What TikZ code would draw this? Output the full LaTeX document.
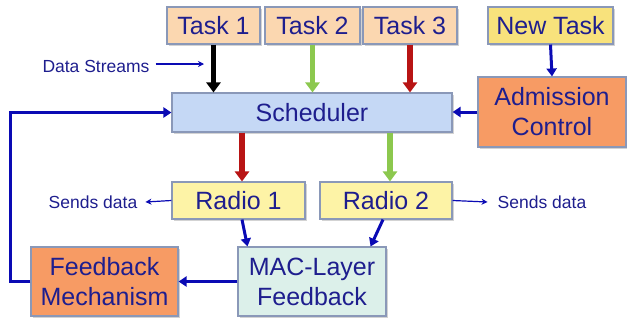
\documentclass[tikz,border=0pt]{standalone}
\usepackage{fontspec}
\setmainfont{Liberation Sans}
\usetikzlibrary{arrows.meta,shadows,calc}
\definecolor{txt}{HTML}{1E1E8E}
\definecolor{peach}{HTML}{FBD7B0}
\definecolor{ntask}{HTML}{F8E27C}
\definecolor{radio}{HTML}{FDF3A6}
\definecolor{sched}{HTML}{C5D8F5}
\definecolor{orng}{HTML}{F79B64}
\definecolor{mac}{HTML}{DCF0EA}
\definecolor{bord}{HTML}{8A98B8}
\definecolor{blu}{HTML}{0A0AB4}
\definecolor{grn}{HTML}{8CC84E}
\definecolor{redd}{HTML}{B81414}
\tikzset{
  box/.style={draw=bord, line width=1.1pt, text=txt, font=\fontsize{25}{30}\selectfont,
    align=center, inner sep=0pt,
    drop shadow={shadow xshift=1.5pt, shadow yshift=-1.5pt, opacity=0.35}},
  small/.style={text=txt, font=\fontsize{17.5}{20}\selectfont, inner sep=0pt},
  fat/.style={line width=5.5pt, -{Triangle[width=14pt,length=10pt]}},
  bluearrow/.style={draw=blu, line width=3pt, -{Triangle[width=10pt,length=8pt]}},
  thinarrow/.style={draw=blu, line width=1.2pt, -{Stealth[width=6pt,length=6pt]}}
}
\begin{document}
\begin{tikzpicture}[x=1pt,y=-1pt]
\useasboundingbox (0,0) rectangle (627,322);
\node[box, fill=peach, minimum width=93pt, minimum height=37pt] (t1) at (213.5,25.5) {Task 1};
\node[box, fill=peach, minimum width=95pt, minimum height=37pt] (t2) at (312.5,25.5) {Task 2};
\node[box, fill=peach, minimum width=94pt, minimum height=37pt] (t3) at (410,25.5) {Task 3};
\node[box, fill=ntask, minimum width=125pt, minimum height=37pt] (nt) at (550.5,25.5) {New Task};
\node[box, fill=sched, minimum width=280pt, minimum height=39pt] (sc) at (312,112.5) {Scheduler};
\node[box, fill=orng, minimum width=148pt, minimum height=70pt] (ac) at (552,112) {Admission\\Control};
\node[box, fill=radio, minimum width=133pt, minimum height=37pt] (r1) at (238.5,200.5) {Radio 1};
\node[box, fill=radio, minimum width=132pt, minimum height=37pt] (r2) at (386,200.5) {Radio 2};
\node[box, fill=mac, minimum width=148pt, minimum height=69pt] (mac) at (312,281.5) {MAC-Layer\\Feedback};
\node[box, fill=orng, minimum width=147pt, minimum height=69pt] (fb) at (104.5,281.5) {Feedback\\Mechanism};
\node[small] (ds) at (96,66) {Data Streams};
\node[small] (sl) at (93,202) {Sends data};
\node[small] (sr) at (542,202) {Sends data};
\coordinate (dsend) at (204,64);
\coordinate (fbl) at (10,0);
% fat arrows
\draw[fat, draw=black] (t1.south) -- (t1.south |- sc.north);
\draw[fat, draw=grn] (t2.south) -- (t2.south |- sc.north);
\draw[fat, draw=redd] (t3.south) -- (t3.south |- sc.north);
\coordinate (r1a) at ($(r1.north)+(3.5,0)$);
\coordinate (r2a) at ($(r2.north)+(4,0)$);
\draw[fat, draw=redd] (r1a |- sc.south) -- (r1a);
\draw[fat, draw=grn] (r2a |- sc.south) -- (r2a);
% blue arrows
\draw[bluearrow] (nt.south) -- (ac.north);
\draw[bluearrow] (ac.west) -- (sc.east |- ac.west);
\draw[bluearrow] ($(r1.south)+(3.5,0)$) -- ($(mac.north west)+(10,0)$);
\draw[bluearrow] ($(r2.south)+(-3,0)$) -- ($(mac.north east)+(-16,0)$);
\draw[bluearrow] (mac.west) -- (fb.east);
\draw[bluearrow] (fb.west) -- (fbl |- fb.west) -- (fbl |- sc.west) -- (sc.west);
% thin arrows
\draw[thinarrow] (ds.east) ++(6,-2) -- (dsend);
\draw[thinarrow] (r1.west) -- ($(sl.east)+(8,0)$);
\draw[thinarrow] (r2.east) -- ($(sr.west)+(-10,0)$);
\end{tikzpicture}
\end{document}
